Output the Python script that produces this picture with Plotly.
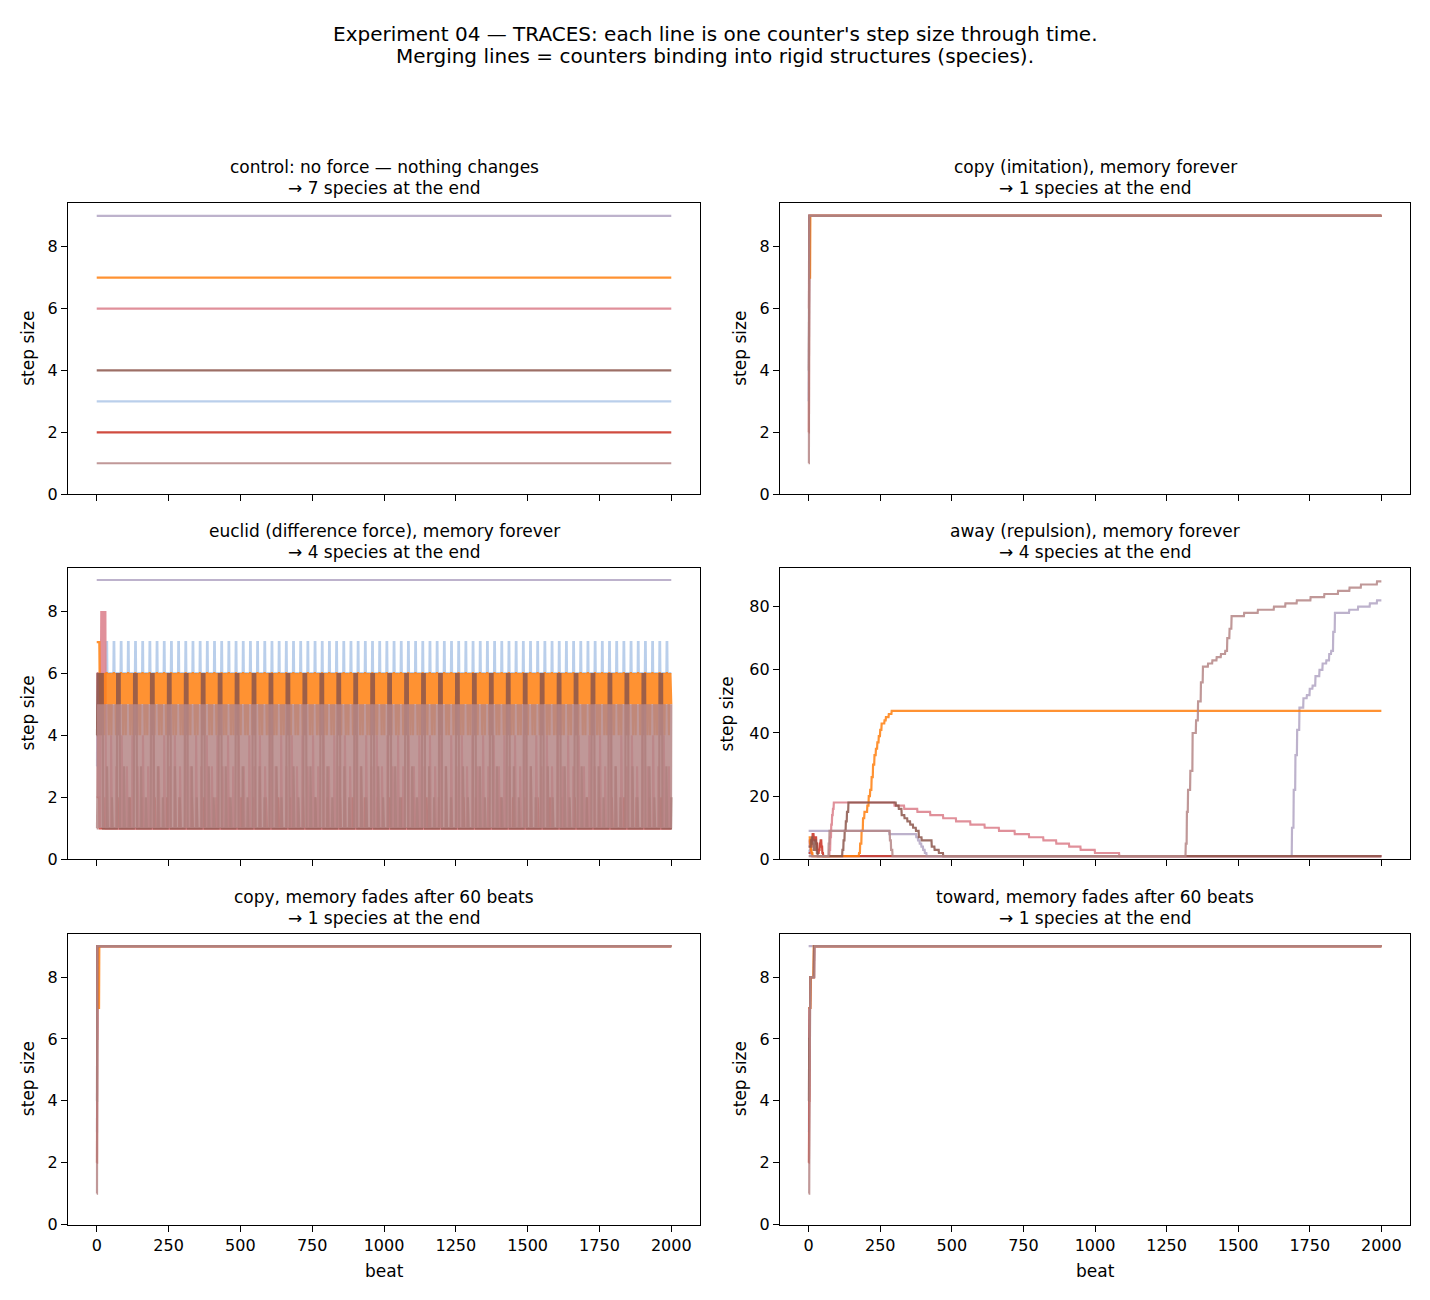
import numpy as np
import plotly.graph_objects as go

# ---------------- data ----------------
N_BEATS = 2001                      # beats 0 .. 2000
beats = np.arange(N_BEATS)

# plotting order (later = on top)
counter_names = ["blue", "red", "lavender", "pink", "orange", "brown", "rosy"]
start_step = {"blue": 3, "red": 2, "lavender": 9, "pink": 6,
              "orange": 7, "brown": 4, "rosy": 1}

# step-size histories as (beat, value) breakpoints: value holds until next breakpoint
control_breaks = {k: [(0, v)] for k, v in start_step.items()}

copy_breaks = {
    "blue": [(0, 3), (1, 9)],
    "red": [(0, 2), (2, 9)],
    "lavender": [(0, 9)],
    "pink": [(0, 6), (2, 9)],
    "orange": [(0, 7), (6, 9)],
    "brown": [(0, 4), (2, 9)],
    "rosy": [(0, 1), (2, 9)],
}

copy_fade_breaks = {
    "blue": [(0, 3), (2, 9)],
    "red": [(0, 2), (2, 9)],
    "lavender": [(0, 9)],
    "pink": [(0, 6), (3, 9)],
    "orange": [(0, 7), (9, 9)],
    "brown": [(0, 4), (2, 9)],
    "rosy": [(0, 1), (2, 9)],
}

toward_fade_breaks = {
    "blue": [(0, 3), (2, 5), (4, 7), (6, 8), (19, 9)],
    "red": [(0, 2), (2, 4), (4, 7), (6, 8), (19, 9)],
    "lavender": [(0, 9)],
    "pink": [(0, 6), (3, 7), (6, 8), (20, 9)],
    "orange": [(0, 7), (7, 8), (18, 9)],
    "brown": [(0, 4), (2, 6), (4, 7), (6, 8), (19, 9)],
    "rosy": [(0, 1), (3, 4), (4, 7), (6, 8), (21, 9)],
}

away_breaks = {
    "blue": [(0, 3), (3, 2), (6, 1)],
    "red": [(0, 2), (8, 4), (11, 6), (14, 8), (18, 7), (21, 6), (24, 7), (27, 5),
            (30, 3), (33, 2), (36, 3), (39, 5), (42, 6), (45, 4), (48, 2), (51, 1)],
    "lavender": [(0, 9), (282, 8), (376, 7), (382, 6), (388, 5), (394, 4), (400, 3),
                 (406, 2), (412, 1), (1688, 10), (1694, 22), (1700, 33), (1706, 41),
                 (1714, 48), (1728, 51), (1740, 52), (1750, 54), (1760, 55), (1770, 58),
                 (1784, 60), (1795, 62), (1808, 63), (1818, 65), (1825, 66), (1832, 72),
                 (1838, 78), (1888, 79), (1919, 80), (1960, 81), (1985, 82)],
    "pink": [(0, 6), (4, 4), (8, 2), (12, 1), (73, 3), (76, 7), (79, 11), (82, 14),
             (85, 16), (88, 18), (300, 17), (334, 16), (380, 15), (425, 14), (470, 13),
             (515, 12), (565, 11), (615, 10), (665, 9), (720, 8), (770, 7), (820, 6),
             (865, 5), (910, 4), (950, 3), (1000, 2), (1085, 1)],
    "orange": [(0, 7), (5, 5), (8, 3), (11, 2), (14, 1), (176, 2), (180, 5), (185, 9),
               (190, 13), (195, 15), (205, 17), (210, 20), (215, 22), (220, 26),
               (225, 30), (230, 33), (235, 35), (240, 37), (245, 39), (250, 41),
               (255, 43), (265, 44), (270, 45), (280, 46), (290, 47)],
    "brown": [(0, 4), (8, 6), (11, 7), (14, 5), (18, 3), (22, 6), (26, 5), (29, 2),
              (32, 1), (118, 3), (122, 6), (126, 9), (130, 12), (134, 15), (139, 18),
              (305, 17), (315, 16), (325, 14), (335, 13), (345, 12), (355, 11),
              (365, 10), (375, 9), (385, 7), (395, 6), (430, 4), (440, 3), (455, 2),
              (470, 1)],
    "rosy": [(0, 1), (70, 5), (73, 9), (284, 6), (288, 3), (293, 1), (1317, 5),
             (1321, 15), (1325, 22), (1333, 28), (1341, 40), (1353, 44), (1360, 50),
             (1370, 56), (1377, 61), (1395, 62), (1410, 63), (1425, 64), (1440, 65),
             (1455, 66), (1462, 70), (1470, 73), (1477, 77), (1521, 78), (1569, 79),
             (1625, 80), (1665, 81), (1705, 82), (1753, 83), (1801, 84), (1849, 85),
             (1889, 86), (1929, 87), (1985, 88)],
}

# euclid: an opening stretch (one value per beat) followed by the cycle that the
# picture shows repeating until beat 2000
euclid_open = {
    "blue": [3, 3, 5, 5] + [6] * 30,
    "red": [2] * 10,
    "lavender": [9],
    "pink": [6, 6, 6, 4, 2, 5, 3, 6, 4, 2, 5, 3, 1, 4] + [8, 5] * 9,
    "orange": [7] * 10,
    "brown": [4, 4, 5, 6, 4, 6, 5, 6, 4, 5, 6, 4],
    "rosy": [1, 1, 2, 3, 4, 5, 3, 1, 4, 2, 5, 1],
}
euclid_cycle = {
    "blue": [7, 7, 7] + [6] * 22,
    "red": [1] * 20 + [2] + [1] * 22,
    "lavender": [9],
    "pink": [1] * 18 + [4] + [1] * 17 + [3],
    "orange": [6, 5, 6, 5, 6, 5, 6, 4, 6, 5, 6, 5, 6, 5, 6, 5, 4, 5, 6, 5, 6, 5, 6, 5, 6],
    "brown": [6, 4, 6, 5, 6, 4, 6, 5, 4, 6]
             + [1] * 14 + [3] + [1] * 16 + [2] + [1] * 17,
    "rosy": [1, 5, 1, 5, 2, 5, 1, 4, 1, 5, 2, 5, 1, 5, 1, 4, 1, 5, 2, 5, 1, 5, 1, 4, 2],
}

counter_color = {
    "blue": "rgba(174,199,232,0.85)",
    "red": "rgba(200,45,30,0.85)",
    "lavender": "rgba(177,164,195,0.85)",
    "pink": "rgba(218,124,136,0.85)",
    "orange": "rgba(255,127,14,0.85)",
    "brown": "rgba(140,86,75,0.85)",
    "rosy": "rgba(181,134,134,0.85)",
}

titles = [
    ("control: no force — nothing changes", "→ 7 species at the end"),
    ("copy (imitation), memory forever", "→ 1 species at the end"),
    ("euclid (difference force), memory forever", "→ 4 species at the end"),
    ("away (repulsion), memory forever", "→ 4 species at the end"),
    ("copy, memory fades after 60 beats", "→ 1 species at the end"),
    ("toward, memory fades after 60 beats", "→ 1 species at the end"),
]
x_ticks = [0, 250, 500, 750, 1000, 1250, 1500, 1750, 2000]
y_ticks_small = [0, 2, 4, 6, 8]
y_ticks_away = [0, 20, 40, 60, 80]


# ---------------- helpers ----------------
def from_breaks(breaks):
    s = np.empty(N_BEATS)
    nxt = [b for b, _ in breaks[1:]] + [N_BEATS]
    for (b, v), e in zip(breaks, nxt):
        s[b:e] = v
    return s


def from_cycle(opening, cycle):
    rest = N_BEATS - len(opening)
    reps = rest // len(cycle) + 1
    return np.concatenate([np.array(opening, float),
                           np.tile(np.array(cycle, float), reps)[:rest]])


panel_series = [
    {k: from_breaks(v) for k, v in control_breaks.items()},
    {k: from_breaks(v) for k, v in copy_breaks.items()},
    {k: from_cycle(euclid_open[k], euclid_cycle[k]) for k in counter_names},
    {k: from_breaks(v) for k, v in away_breaks.items()},
    {k: from_breaks(v) for k, v in copy_fade_breaks.items()},
    {k: from_breaks(v) for k, v in toward_fade_breaks.items()},
]

# ---------------- layout geometry ----------------
W, H = 1430, 1300
col_px = [(68, 700), (780, 1410)]
row_px = [(205, 498), (572, 866), (941, 1234)]

FONT = "DejaVu Sans"
TICK_SIZE = 16
LABEL_SIZE = 17
TITLE_SIZE = 17
SUP_SIZE = 20


def py(y):
    return 1 - y / H


fig = go.Figure()
layout = dict(
    width=W, height=H, margin=dict(l=0, r=0, t=0, b=0),
    paper_bgcolor="white", plot_bgcolor="white", showlegend=False,
    font=dict(family=FONT, size=TICK_SIZE, color="black"),
)
annotations = []

for i in range(6):
    r, c = divmod(i, 2)
    n = i + 1
    xa = "xaxis" if n == 1 else f"xaxis{n}"
    ya = "yaxis" if n == 1 else f"yaxis{n}"
    xref = "x" if n == 1 else f"x{n}"
    yref = "y" if n == 1 else f"y{n}"
    x0, x1 = col_px[c]
    t, b = row_px[r]
    series = panel_series[i]
    for name in counter_names:
        fig.add_trace(go.Scatter(
            x=beats, y=series[name], mode="lines", xaxis=xref, yaxis=yref,
            line=dict(color=counter_color[name], width=2.2), hoverinfo="skip"))
    ymax_data = max(series[k].max() for k in counter_names)
    ymin_data = min(series[k].min() for k in counter_names)
    ytop = ymax_data + 0.05 * (ymax_data - ymin_data)
    layout[xa] = dict(
        domain=[x0 / W, x1 / W], anchor=yref, range=[-100, 2100],
        tickvals=x_ticks, ticktext=[str(v) for v in x_ticks],
        showticklabels=(r == 2), ticks="outside", ticklen=6, tickwidth=1.2,
        tickcolor="black", showline=True, linecolor="black", linewidth=1.2,
        mirror=True, showgrid=False, zeroline=False, ticklabelstandoff=0,
        tickfont=dict(family=FONT, size=TICK_SIZE, color="black"))
    yt = y_ticks_away if i == 3 else y_ticks_small
    layout[ya] = dict(
        domain=[py(b), py(t)], anchor=xref, range=[0, ytop],
        tickvals=yt, ticktext=[str(v) for v in yt],
        ticks="outside", ticklen=6, tickwidth=1.2, tickcolor="black",
        showline=True, linecolor="black", linewidth=1.2, mirror=True,
        showgrid=False, zeroline=False,
        tickfont=dict(family=FONT, size=TICK_SIZE, color="black"))
    cx = (x0 + x1) / 2 / W
    annotations.append(dict(text=titles[i][0], x=cx, y=py(t - 37),
                            xref="paper", yref="paper", showarrow=False,
                            xanchor="center", yanchor="middle",
                            font=dict(family=FONT, size=TITLE_SIZE, color="black")))
    annotations.append(dict(text=titles[i][1], x=cx, y=py(t - 16),
                            xref="paper", yref="paper", showarrow=False,
                            xanchor="center", yanchor="middle",
                            font=dict(family=FONT, size=TITLE_SIZE, color="black")))
    lx = 28 if c == 0 else (727 if i == 3 else 740)
    annotations.append(dict(text="step size", x=lx / W, y=py((t + b) / 2),
                            xref="paper", yref="paper", showarrow=False,
                            textangle=-90, xanchor="center", yanchor="middle",
                            font=dict(family=FONT, size=LABEL_SIZE, color="black")))
    if r == 2:
        annotations.append(dict(text="beat", x=cx, y=py(1281),
                                xref="paper", yref="paper", showarrow=False,
                                xanchor="center", yanchor="middle",
                                font=dict(family=FONT, size=LABEL_SIZE, color="black")))

annotations.append(dict(text="Experiment 04 — TRACES: each line is one counter's step size through time.",
                        x=0.5, y=py(34), xref="paper", yref="paper", showarrow=False,
                        xanchor="center", yanchor="middle",
                        font=dict(family=FONT, size=SUP_SIZE, color="black")))
annotations.append(dict(text="Merging lines = counters binding into rigid structures (species).",
                        x=0.5, y=py(56), xref="paper", yref="paper", showarrow=False,
                        xanchor="center", yanchor="middle",
                        font=dict(family=FONT, size=SUP_SIZE, color="black")))
layout["annotations"] = annotations
fig.update_layout(**layout)
fig.write_html("out.html")
